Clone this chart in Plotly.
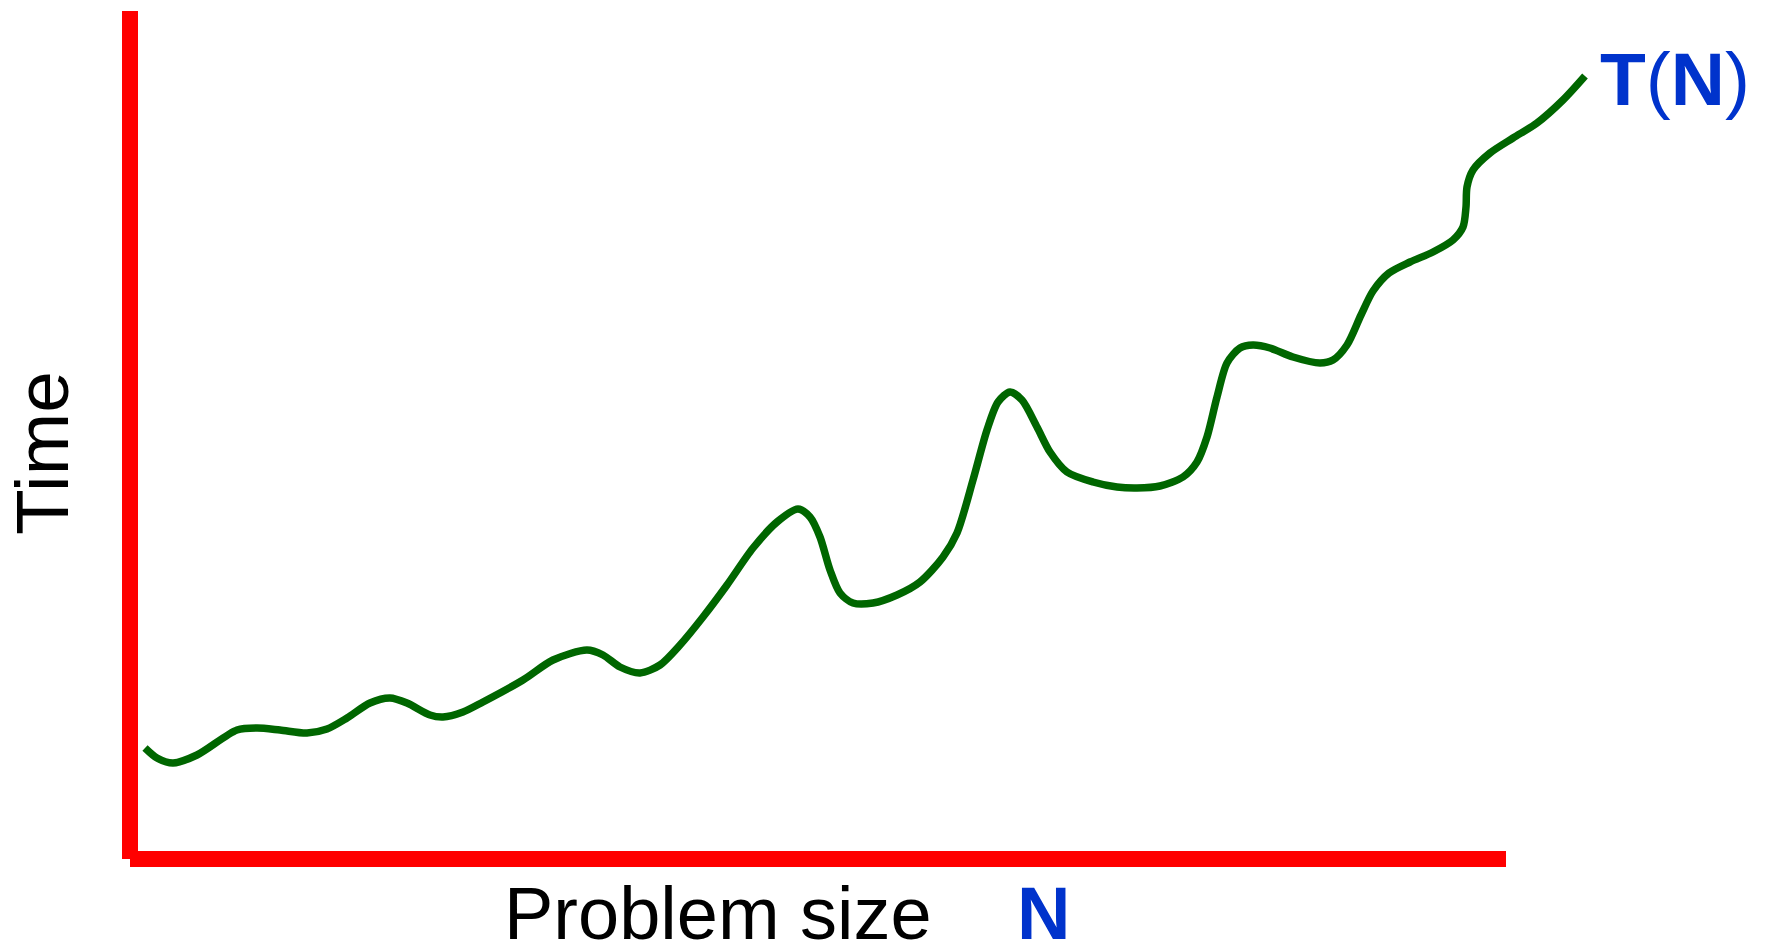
import plotly.graph_objects as go

# Problem size N (horizontal) and running time T(N) (vertical)
problem_size = [15, 27, 43, 67, 107, 127, 150, 177, 197, 217, 240, 260, 277, 300, 313, 333, 353,
                393, 423, 457, 473, 490, 510, 530, 550, 573, 597, 623, 647, 668, 680, 690, 700,
                710, 723, 743, 767, 790, 813, 827, 843, 857, 868, 880, 892, 907, 920, 937, 963,
                987, 1007, 1030, 1053, 1067, 1077, 1087, 1097, 1110, 1123, 1140, 1163, 1190, 1203,
                1217, 1231, 1243, 1259, 1280, 1303, 1323, 1333, 1336, 1337, 1343, 1360, 1383,
                1407, 1433, 1455]
time_values = [111, 101, 96, 104, 129, 131, 129, 126, 130, 141, 156, 161, 156, 144, 142, 147, 157,
               179, 199, 209, 204, 192, 186, 194, 214, 242, 274, 311, 337, 350, 342, 322, 289,
               266, 256, 256, 264, 277, 302, 326, 379, 429, 457, 467, 459, 432, 407, 387, 377,
               372, 371, 373, 382, 397, 422, 462, 496, 511, 514, 511, 502, 496, 499,
               514, 544, 568, 586, 597, 607, 619, 632, 652, 672, 689, 706, 721,
               736, 759, 783]

axis_x_end = 1376
axis_y_end = 848

x_label = "Problem size"
x_symbol = "N"
y_label = "Time"
curve_label = "<b>T</b>(<b>N</b>)"

RED = "#ff0000"
GREEN = "#006600"
BLUE = "#0033cc"

fig = go.Figure()
fig.add_trace(go.Scatter(
    x=problem_size, y=time_values, mode="lines",
    line=dict(color=GREEN, width=7.5, shape="spline", smoothing=0.8),
    hoverinfo="skip", showlegend=False,
))

# axes drawn as thick red lines
fig.add_shape(type="line", xref="x", yref="y", x0=0, y0=0, x1=0, y1=axis_y_end,
              line=dict(color=RED, width=16))
fig.add_shape(type="line", xref="x", yref="y", x0=0, y0=0, x1=axis_x_end, y1=0,
              line=dict(color=RED, width=16))

fig.add_annotation(x=-88, y=406, xref="x", yref="y", text=y_label, showarrow=False,
                   textangle=-90, font=dict(family="Liberation Sans, Arial", size=75, color="black"))
fig.add_annotation(x=587.5, y=-54, xref="x", yref="y", text=x_label, showarrow=False,
                   font=dict(family="Liberation Sans, Arial", size=74, color="black"))
fig.add_annotation(x=913, y=-54, xref="x", yref="y", text="<b>" + x_symbol + "</b>", showarrow=False,
                   font=dict(family="Liberation Sans, Arial", size=74, color=BLUE))
fig.add_annotation(x=1468, y=780, xref="x", yref="y", text=curve_label, showarrow=False,
                   xanchor="left", font=dict(family="Liberation Sans, Arial", size=75, color=BLUE))

# the page body has an 8px margin, so the figure is 8px smaller and the ranges are shifted
fig.update_layout(
    width=1760, height=939,
    margin=dict(l=0, r=0, t=0, b=0),
    paper_bgcolor="white", plot_bgcolor="white",
    xaxis=dict(range=[-122, 1638], visible=False, fixedrange=True),
    yaxis=dict(range=[-88, 851], visible=False, fixedrange=True),
    showlegend=False,
)

fig.write_html("out.html", config={"displayModeBar": False})
